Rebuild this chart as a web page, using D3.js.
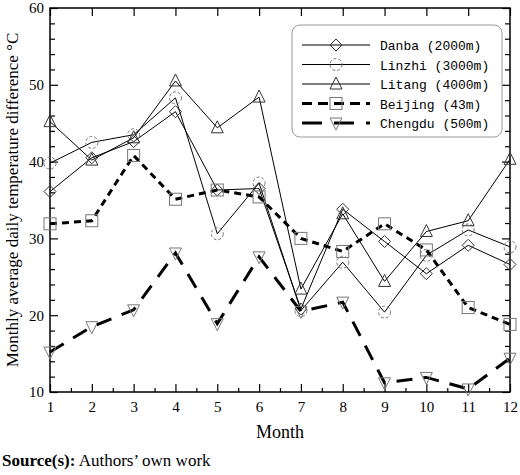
<!DOCTYPE html><html><head><meta charset="utf-8"><script src="https://cdn.jsdelivr.net/npm/d3@7"></script>
<style>body{margin:0;background:#fff}</style></head><body><svg id="c" width="520" height="475"></svg>
<script>
const months=[1,2,3,4,5,6,7,8,9,10,11,12];
const danba=[36.1,40.5,42.6,46.5,36.3,36.5,20.8,33.8,29.6,25.4,29.1,26.6];
const linzhi=[39.8,42.5,43.5,48.3,30.6,37.2,20.6,26.9,20.4,27.8,31.1,28.9];
const litang=[45.2,40.2,43.1,50.5,44.4,48.4,23.4,33.2,24.4,30.9,32.3,40.3];
const beijing=[31.9,32.3,40.8,35.1,36.3,35.4,30.0,28.3,31.9,28.5,21.0,18.8];
const chengdu=[15.2,18.5,20.7,28.1,18.9,27.6,20.5,21.7,11.2,11.9,10.4,14.4];
const names=["Danba (2000m)","Linzhi (3000m)","Litang (4000m)","Beijing (43m)","Chengdu (500m)"];
const yTicks=[10,20,30,40,50,60];
const series=[
 {v:danba,sym:"diamond",w:1,dash:null},
 {v:linzhi,sym:"circle",w:1,dash:null},
 {v:litang,sym:"triangle",w:1,dash:null},
 {v:beijing,sym:"square",w:3,dash:"7,5"},
 {v:chengdu,sym:"tri-down",w:3,dash:"16,11"}];
const svg=d3.select("#c");
const L=50,R=510,T=8,B=392;
const x=d3.scaleLinear().domain([1,12]).range([L,R]);
const y=d3.scaleLinear().domain([10,60]).range([B,T]);
const F="Liberation Serif, Times New Roman, serif";
svg.append("rect").attr("x",L).attr("y",T).attr("width",R-L).attr("height",B-T).attr("fill","none").attr("stroke","#000").attr("stroke-width",1.5);
const ax=svg.append("g").attr("transform",`translate(0,${B})`).call(d3.axisBottom(x).tickValues(months).tickSize(-8).tickPadding(9));
ax.select(".domain").remove();
ax.selectAll("text").attr("font-family",F).attr("font-size",15);
const axm=svg.append("g").attr("transform",`translate(0,${B})`).call(d3.axisBottom(x).tickValues(d3.range(1.5,12,1)).tickSize(-4).tickFormat(""));
axm.select(".domain").remove();
const axt=svg.append("g").attr("transform",`translate(0,${T})`).call(d3.axisTop(x).tickValues(months).tickSize(-8).tickFormat(""));
axt.select(".domain").remove();
const ay=svg.append("g").attr("transform",`translate(${L},0)`).call(d3.axisLeft(y).tickValues(yTicks).tickSize(-8).tickPadding(6));
ay.select(".domain").remove();
ay.selectAll("text").attr("font-family",F).attr("font-size",15);
const minor=d3.range(12,60,2).filter(d=>d%10!==0);
svg.append("g").attr("transform",`translate(${L},0)`).call(d3.axisLeft(y).tickValues(minor).tickSize(-5).tickFormat("")).select(".domain").remove();
svg.append("g").attr("transform",`translate(${R},0)`).call(d3.axisRight(y).tickValues(yTicks).tickSize(-8).tickFormat("")).select(".domain").remove();
svg.append("g").attr("transform",`translate(${R},0)`).call(d3.axisRight(y).tickValues(minor).tickSize(-5).tickFormat("")).select(".domain").remove();
svg.selectAll(".tick line").attr("stroke","#000").attr("stroke-width",1.2);
function sym(g,t,cx,cy){
 const s=6;let el;
 if(t==="diamond")el=g.append("path").attr("d",`M${cx},${cy-s}L${cx+s},${cy}L${cx},${cy+s}L${cx-s},${cy}Z`);
 else if(t==="circle")el=g.append("circle").attr("cx",cx).attr("cy",cy).attr("r",s).attr("stroke-dasharray","3,2");
 else if(t==="triangle")el=g.append("path").attr("d",`M${cx},${cy-s-1}L${cx+s},${cy+s-1}L${cx-s},${cy+s-1}Z`);
 else if(t==="square")el=g.append("rect").attr("x",cx-s).attr("y",cy-s).attr("width",2*s).attr("height",2*s);
 else el=g.append("path").attr("d",`M${cx-s},${cy-s+1}L${cx+s},${cy-s+1}L${cx},${cy+s+1}Z`);
 el.attr("fill","none").attr("stroke",t==="circle"||t==="square"||t==="tri-down"?"#777":"#333").attr("stroke-width",1);
}
const line=d3.line().x((d,i)=>x(months[i])).y(d=>y(d));
series.forEach(s=>{
 svg.append("path").datum(s.v).attr("d",line).attr("fill","none").attr("stroke","#000").attr("stroke-width",s.w).attr("stroke-dasharray",s.dash);
 const g=svg.append("g");
 s.v.forEach((v,i)=>sym(g,s.sym,x(months[i]),y(v)));
});
const lg=svg.append("g");
lg.append("rect").attr("x",292).attr("y",25).attr("width",210).attr("height",112).attr("rx",8).attr("fill","#fff").attr("stroke","#999");
series.forEach((s,i)=>{
 const yy=45+i*19.5;
 lg.append("line").attr("x1",302).attr("x2",370).attr("y1",yy).attr("y2",yy).attr("stroke","#000").attr("stroke-width",s.w).attr("stroke-dasharray",s.dash?(i===3?"10,6":"20,12"):null);
 sym(lg,s.sym,336,yy);
 lg.append("text").attr("x",380).attr("y",yy+5).text(names[i]).attr("font-family","Liberation Mono, monospace").attr("font-size",13);
});
svg.append("text").attr("x",(L+R)/2).attr("y",438).attr("text-anchor","middle").attr("font-family",F).attr("font-size",18).text("Month");
svg.append("text").attr("transform",`translate(18,${(T+B)/2}) rotate(-90)`).attr("text-anchor","middle").attr("font-family",F).attr("font-size",17).text("Monthly average daily temperature difference °C");
const src=svg.append("text").attr("x",2).attr("y",466).attr("font-family",F).attr("font-size",17);
src.append("tspan").attr("font-weight","bold").text("Source(s):");
src.append("tspan").text(" Authors’ own work");
</script></body></html>
